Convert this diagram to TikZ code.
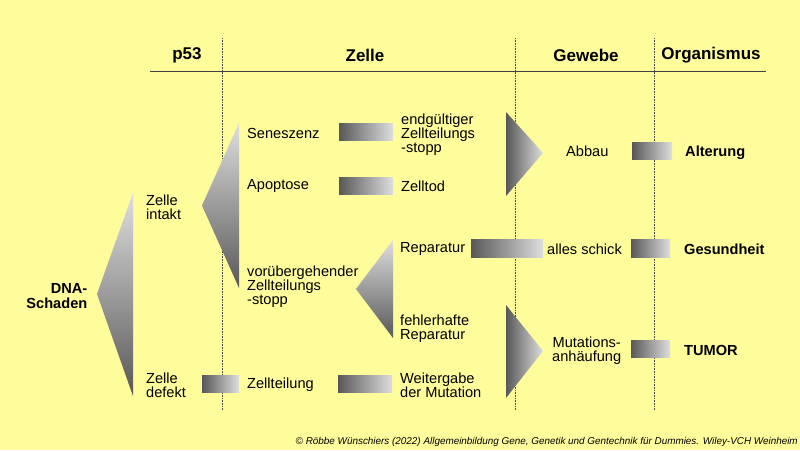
\documentclass[tikz,border=0pt]{standalone}
\usepackage{fontspec}
\setmainfont{Liberation Sans}
\begin{document}
\begin{tikzpicture}[x=1pt,y=-1pt,
  txt/.style={inner sep=0pt,anchor=west,align=left,font=\fontsize{14.6}{14}\selectfont},
  btxt/.style={txt,font=\fontsize{14.6}{15}\selectfont\bfseries},
  head/.style={inner sep=0pt,anchor=center,font=\fontsize{17}{17}\selectfont\bfseries},
  bar/.style={left color=bardark,right color=barlight,draw=none},
  vtri/.style={top color=barlight,bottom color=bardark,draw=none},
  htri/.style={left color=bardark,right color=barlight,draw=none},
  sep/.style={densely dotted,line width=0.6pt,draw=black!70}]
\definecolor{bg}{RGB}{255,252,155}
\definecolor{bardark}{RGB}{88,88,88}
\definecolor{barlight}{RGB}{222,222,222}
\useasboundingbox[fill=bg] (0,0) rectangle (800,450);
% header
\draw[line width=1pt,draw=black!75] (150,71.5) -- (766,71.5);
\draw[sep] (222,38) -- (222,410);
\draw[sep] (515.5,38) -- (515.5,410);
\draw[sep] (654,38) -- (654,410);
\node[head] (hp) at (187,55) {p53};
\node[head] (hz) at (365,55) {Zelle};
\node[head] (hg) at (586,55) {Gewebe};
\node[head] (ho) at (711,55) {Organismus};
% triangles
\shade[vtri] (97,294) -- (133,193) -- (133,396) -- cycle;
\shade[vtri] (202,205.5) -- (239,123) -- (239,288) -- cycle;
\shade[vtri] (356,289) -- (393,240) -- (393,338) -- cycle;
\shade[htri] (506,112) -- (543,153) -- (506,196) -- cycle;
\shade[htri] (506,305) -- (543,351) -- (506,398) -- cycle;
% bars
\shade[bar] (339,123) rectangle (393,140.5);
\shade[bar] (339,177) rectangle (393,194);
\shade[bar] (632,142) rectangle (672,159);
\shade[bar] (471,239) rectangle (543,257);
\shade[bar] (631,239) rectangle (670,257);
\shade[bar] (631,340) rectangle (670,357);
\shade[bar] (202,375) rectangle (239,392);
\shade[bar] (338,375) rectangle (392,392);
% texts
\node[btxt,anchor=east,align=right] (dna) at (87.5,296) {DNA-\\Schaden};
\node[txt] (zi) at (146,207) {Zelle\\intakt};
\node[txt] (zd) at (146,385.5) {Zelle\\defekt};
\node[txt] (sen) at (247,133.5) {Seneszenz};
\node[txt] (apo) at (247,185.5) {Apoptose};
\node[txt] (vor) at (247,287) {vorübergehender\\Zellteilungs\\-stopp};
\node[txt] (zt) at (247,384.5) {Zellteilung};
\node[txt] (end) at (401,135) {endgültiger\\Zellteilungs\\-stopp};
\node[txt] (tod) at (401,186.5) {Zelltod};
\node[txt] (rep) at (400,248.5) {Reparatur};
\node[txt] (feh) at (400,328.5) {fehlerhafte\\Reparatur};
\node[txt] (wei) at (400,385.5) {Weitergabe\\der Mutation};
\node[txt] (abb) at (566,151) {Abbau};
\node[txt] (all) at (547,249) {alles schick};
\node[txt,align=center] (mut) at (552,351) {Mutations-\\anhäufung};
\node[btxt] (alt) at (685,152.5) {Alterung};
\node[btxt] (ges) at (684,249) {Gesundheit};
\node[btxt] (tum) at (684,350) {TUMOR};
\node[inner sep=0pt,anchor=east,font=\fontsize{9.9}{12}\selectfont\itshape] (cr) at (798,442) {© Röbbe Wünschiers (2022) Allgemeinbildung Gene, Genetik und Gentechnik für Dummies. Wiley-VCH Weinheim};
\end{tikzpicture}
\end{document}
